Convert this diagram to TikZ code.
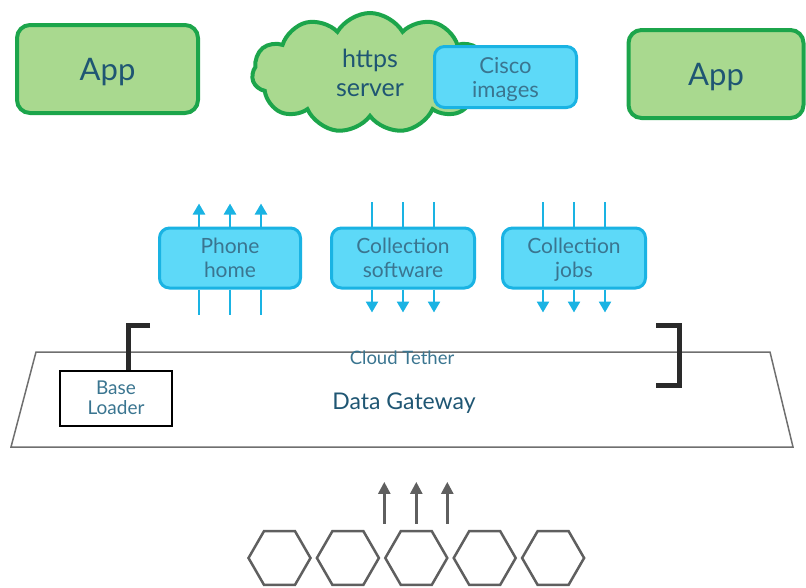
\documentclass[tikz,border=0pt]{standalone}
\usepackage{fontspec}
\setmainfont{Lato}
\usepackage{tikz}
\usetikzlibrary{arrows.meta,calc,positioning,shapes.geometric,shapes.symbols}
\definecolor{appfill}{HTML}{A9D98F}
\definecolor{appline}{HTML}{1CA54B}
\definecolor{cyanfill}{HTML}{5DD9F8}
\definecolor{cyanline}{HTML}{1AB3E3}
\definecolor{txtdark}{HTML}{1F5673}
\definecolor{txtsoft}{HTML}{3A7590}
\definecolor{hexline}{HTML}{5F5F5F}
\definecolor{brackline}{HTML}{2A2A2A}
\newcommand{\nodepth}[1]{\raisebox{0pt}[\height][0pt]{#1}}
\tikzset{app box/.style={
    draw=appline, fill=appfill, line width=4pt,
    rounded corners=13pt,
    minimum width=#1, minimum height=88,
    text=txtdark, font=\fontsize{31}{33}\selectfont
  },
  app box/.default=180,
  cyan box/.style={
    draw=cyanline, fill=cyanfill, line width=3pt,
    rounded corners=10pt,
    minimum width=#1, minimum height=60, inner sep=1pt,
    align=center, text=txtsoft, font=\fontsize{21}{24}\selectfont
  },
  cyan box/.default=142,
  cyan wire/.style={draw=cyanline, line width=2.5pt},
  cyan arrow/.style={cyan wire, -{Triangle[width=12pt,length=11pt]}},
  gray arrow/.style={draw=hexline, line width=2.5pt, -{Triangle[width=12pt,length=12pt]}},
  hexa/.style={
    regular polygon, regular polygon sides=6,
    minimum size=62, inner sep=0pt,
    draw=hexline, line width=2.5pt
  },
  bracket/.style={draw=brackline, line width=5pt, line join=miter}
}

\begin{document}
\begin{tikzpicture}[x=1pt,y=-1pt]
    \useasboundingbox (0,0) rectangle (806,587);

    \node[app box=181] (appl) at (107.5,69) {\nodepth{App}};
    \node[app box=175] (appr) at (716,74) {\nodepth{App}};
    \node[cloud, cloud puffs=11, cloud puff arc=120, aspect=2,
          draw=appline, fill=appfill, line width=4pt,
          minimum width=236, minimum height=120, inner sep=1pt,
          align=center, text=txtdark, font=\fontsize{25}{29}\selectfont] (srv) at (370,73) {https\\server};
    \node[cyan box=142, minimum height=61, font=\fontsize{22}{24}\selectfont] (img) at (505.5,77) {Cisco\\\nodepth{images}};

    \node[cyan box=141] (ph) at (230,258) {Phone\\home};
    \node[cyan box=143] (csw) at (403,258) {Collection\\software};
    \node[cyan box=143] (cjob) at (574,258) {Collection\\\nodepth{jobs}};

    \foreach \dx in {-31,0,31} {
        \draw[cyan arrow] ([xshift=\dx pt]ph.north) -- ++(0,-23);
        \draw[cyan wire] ([xshift=\dx pt]ph.south) -- ++(0,25);
        \draw[cyan wire] ([xshift=\dx pt]csw.north) -- ++(0,-25);
        \draw[cyan arrow] ([xshift=\dx pt]csw.south) -- ++(0,23);
        \draw[cyan wire] ([xshift=\dx pt]cjob.north) -- ++(0,-25);
        \draw[cyan arrow] ([xshift=\dx pt]cjob.south) -- ++(0,23);
    }

    \draw[draw=hexline!90, line width=1.5pt] (36,352) -- (770,352) -- (793,447) -- (11,447) -- cycle;
    \node[text=txtsoft, font=\fontsize{18.5}{20}\selectfont] (tether) at (402,358) {Cloud Tether};
    \node[text=txtdark, font=\fontsize{23}{25}\selectfont] (gw) at (404,403) {Data Gateway};

    \node[draw=black, fill=white, line width=2pt, minimum width=112, minimum height=55, inner sep=1pt,
          align=center, text=txtsoft, font=\fontsize{19}{20}\selectfont] (bl) at (116,398) {Base\\Loader};
    \coordinate (ltop) at (150,325);
    \draw[bracket] (ltop) -| ([xshift=12pt]bl.north);
    \coordinate (rtop) at (656,325);
    \coordinate (rbot) at (656,385);
    \draw[bracket] (rtop) -- ++(23,0) |- (rbot);

    \foreach \i in {0,...,4}
        \node[hexa] (hx\i) at ({279.5+68.4*\i},558) {};
    \foreach \dx in {-32,0,31}
        \draw[gray arrow] ([xshift=\dx pt,yshift=6pt]hx2.north) -- ++(0,-42);
\end{tikzpicture}
\end{document}
